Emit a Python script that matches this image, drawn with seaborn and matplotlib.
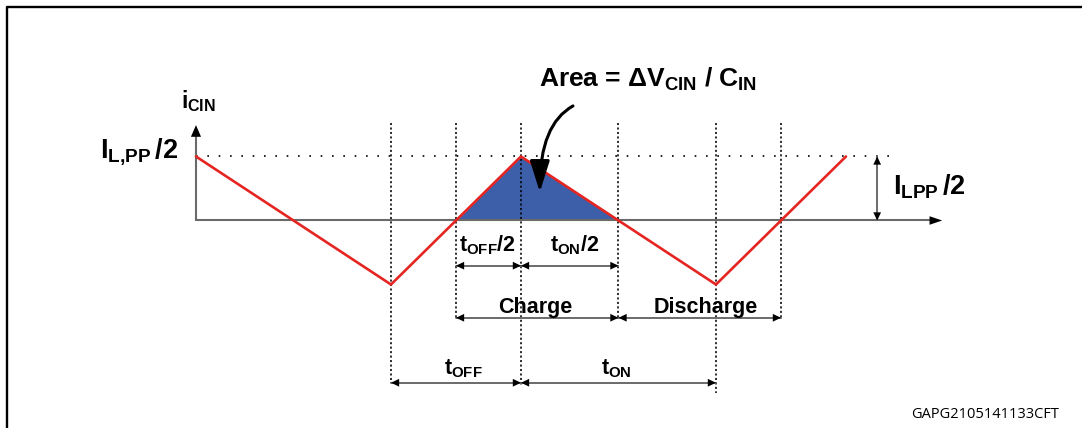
import numpy as np
import matplotlib
matplotlib.use("Agg")
import matplotlib.pyplot as plt
import seaborn as sns
import pandas as pd

# ---- data: input-capacitor current waveform (time in arbitrary units, current normalised to I_LPP/2)
wave_t = [0, 3, 5, 8, 10]
wave_i = [1, -1, 1, -1, 1]

# event instants marked by vertical dotted guide lines
guide_t = [3, 4, 5, 6.5, 8, 9]
guide_bottom = [-2.54, -1.52, -2.57, -1.52, -2.70, -1.52]

# dimension intervals: (start, end, level)
dim_start = [4, 5, 4, 6.5, 3, 5]
dim_end = [5, 6.5, 6.5, 9, 5, 8]
dim_level = [-0.706, -0.706, -1.52, -1.52, -2.535, -2.535]

# labels
dim_labels = [r'$t_{OFF}/2$', r'$t_{ON}/2$', 'Charge', 'Discharge', r'$t_{OFF}$', r'$t_{ON}$']
dim_label_x = [4.48, 5.82, 5.22, 7.85, 4.12, 6.47]
dim_label_y = [-0.49, -0.49, -1.445, -1.445, -2.41, -2.41]

RED = '#E52521'
BLUE = '#3D5EA8'
GREY = '#6a6a6a'

sns.set_theme(style='white')
plt.rcParams['font.family'] = ['Liberation Sans', 'DejaVu Sans']
plt.rcParams['font.weight'] = 'bold'
plt.rcParams['text.color'] = 'black'
plt.rcParams['mathtext.fontset'] = 'custom'
plt.rcParams['mathtext.rm'] = 'Liberation Sans:bold'
plt.rcParams['mathtext.it'] = 'Liberation Sans:bold'
plt.rcParams['mathtext.bf'] = 'Liberation Sans:bold'
plt.rcParams['mathtext.sf'] = 'Liberation Sans:bold'

fig = plt.figure(figsize=(10.82, 4.28), dpi=100)
fig.patch.set_facecolor('white')
ax = fig.add_axes([0, 0, 1, 1])

# outer frame (partial box)
ax.plot([7 / 1082, 7 / 1082, 1.0], [0, 1 - 7 / 428, 1 - 7 / 428], transform=ax.transAxes,
        color='black', lw=1.7, solid_capstyle='butt', clip_on=False)

# shaded charge area (positive part of the current)
tt = np.linspace(wave_t[1], wave_t[3], 501)
ii = np.interp(tt, wave_t, wave_i)
ax.fill_between(tt, 0, np.clip(ii, 0, None), where=ii >= 0, color=BLUE, lw=0, zorder=2)

# peak dotted line
ax.plot([wave_t[0], 10.68], [max(wave_i)] * 2, color='black', lw=1.2,
        linestyle=(0, (1, 5.8)), zorder=3)

# vertical dotted guide lines
for gt, gb in zip(guide_t, guide_bottom):
    ax.plot([gt, gt], [1.52, gb], color='black', lw=1.15, linestyle=(0, (1.3, 1.5)), zorder=4)

# axes with arrows
ax.plot([0, 0], [0, 1.4], color=GREY, lw=1.5, zorder=3)
ax.plot([0, 11.3], [0, 0], color=GREY, lw=1.5, zorder=3)
ax.annotate('', xy=(0, 1.49), xytext=(0, 1.2),
            arrowprops=dict(arrowstyle='-|>,head_length=0.6,head_width=0.26', color='black',
                            lw=0, mutation_scale=14, shrinkA=0, shrinkB=0))
ax.annotate('', xy=(11.48, 0), xytext=(11.1, 0),
            arrowprops=dict(arrowstyle='-|>,head_length=0.65,head_width=0.22', color='black',
                            lw=0, mutation_scale=14, shrinkA=0, shrinkB=0))

# red current waveform
df = pd.DataFrame({'t': wave_t, 'i': wave_i})
sns.lineplot(data=df, x='t', y='i', ax=ax, color=RED, lw=1.9, sort=False, zorder=5)
ax.set_xlim(-3.015, 13.631)
ax.set_ylim(-3.242, 3.445)
ax.axis('off')


def dim_arrow(x0, x1, y, vertical=False):
    if vertical:
        ax.plot([x0, x0], [y, x1], color=GREY, lw=1.4, zorder=6)
        p0, p1 = (x0, y), (x0, x1)
        d0, d1 = (x0, y + 0.2), (x0, x1 - 0.2)
    else:
        ax.plot([x0, x1], [y, y], color=GREY, lw=1.4, zorder=6)
        p0, p1 = (x0, y), (x1, y)
        d0, d1 = (x0 + 0.2, y), (x1 - 0.2, y)
    for tip, tail in ((p0, d0), (p1, d1)):
        ax.annotate('', xy=tip, xytext=tail,
                    arrowprops=dict(arrowstyle='-|>,head_length=0.42,head_width=0.2', color='black',
                                    lw=0, mutation_scale=14, shrinkA=0, shrinkB=0), zorder=7)


for s, e, lv in zip(dim_start, dim_end, dim_level):
    dim_arrow(s, e, lv)

# I_LPP/2 vertical dimension
dim_arrow(10.48, 1.0, 0.0, vertical=True)

for lab, x, y in zip(dim_labels, dim_label_x, dim_label_y):
    ax.text(x, y, lab, ha='center', va='baseline', fontsize=15.5, fontweight='bold', zorder=8)

ax.text(-1.48, 0.977, r'$I_{L{,}PP}\,/2$', ha='left', va='baseline', fontsize=19.5)
ax.text(-0.23, 1.76, r'$i_{CIN}$', ha='left', va='baseline', fontsize=16.5)
ax.text(10.72, 0.40, r'$I_{LPP}\,/2$', ha='left', va='baseline', fontsize=19.5)
ax.text(5.27, 2.09, 'Area = Δ$V_{CIN}$ / $C_{IN}$', ha='left', va='baseline',
        fontsize=19, fontweight='bold')

# curved pointer arrow into the area
ax.annotate('', xy=(5.29, 0.445), xytext=(5.8, 1.79),
            arrowprops=dict(arrowstyle='-|>,head_length=0.95,head_width=0.3', color='black',
                            lw=2.2, mutation_scale=20, shrinkA=0, shrinkB=0,
                            connectionstyle='angle3,angleA=29,angleB=90'), zorder=9)

ax.text(13.28, -3.086, 'GAPG2105141133CFT', ha='right', va='baseline', fontsize=10.5,
        fontweight='normal', family=['Open Sans', 'DejaVu Sans'])

fig.savefig('out.png', dpi=100, facecolor='white')
